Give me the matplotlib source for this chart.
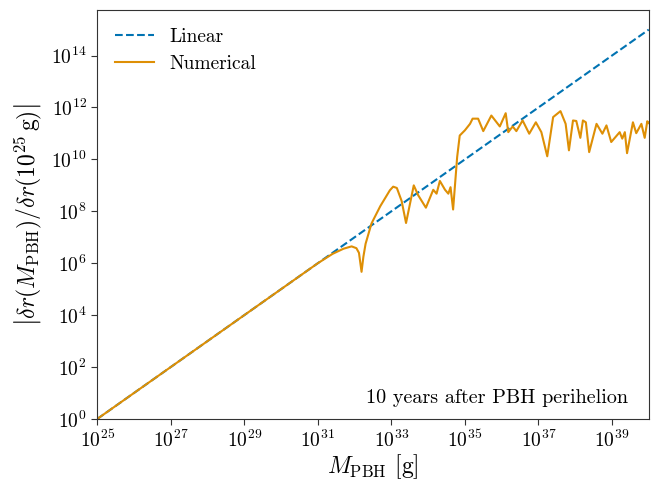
import matplotlib
matplotlib.use("Agg")
import matplotlib.pyplot as plt
import numpy as np

plt.rcParams["font.family"] = "serif"
plt.rcParams["font.serif"] = ["cmr10"]
plt.rcParams["mathtext.fontset"] = "cm"
plt.rcParams["axes.formatter.use_mathtext"] = True

# log10 of the PBH mass [g] and of |dr(M)/dr(1e25 g)| for the numerical run
log_m_num = [25.0, 31.0, 31.4, 31.7, 31.92, 32.05, 32.12, 32.19, 32.24, 32.30,
             32.46, 32.7, 32.96, 33.05, 33.15, 33.28, 33.40, 33.61, 33.73, 33.94,
             34.14, 34.23, 34.32, 34.46, 34.55, 34.61, 34.68, 34.79, 34.86, 35.0,
             35.14, 35.21, 35.36, 35.50, 35.72, 35.95, 36.11, 36.18, 36.30, 36.40,
             36.57, 36.75, 36.93, 37.08, 37.24, 37.40, 37.60, 37.74, 37.83, 37.94,
             38.03, 38.14, 38.21, 38.29, 38.38, 38.58, 38.74, 38.85, 38.98, 39.21,
             39.28, 39.35, 39.41, 39.57, 39.66, 39.80, 39.89, 39.96, 40.0]
log_y_num = [0.0, 6.0, 6.36, 6.56, 6.65, 6.58, 6.40, 5.67, 6.25, 6.75,
             7.53, 8.2, 8.81, 8.95, 8.9, 8.4, 7.55, 9.0, 8.62, 8.14,
             8.83, 8.68, 9.17, 8.83, 8.68, 8.93, 8.07, 10.09, 10.92, 11.12,
             11.37, 11.57, 11.57, 11.09, 11.69, 11.27, 11.78, 11.05, 11.27, 11.09,
             11.50, 10.99, 11.43, 11.05, 10.12, 11.63, 11.86, 11.37, 10.35, 11.50,
             11.48, 10.83, 11.50, 11.43, 10.28, 11.37, 10.99, 11.31, 10.67, 11.05,
             10.80, 11.05, 10.24, 11.43, 11.01, 11.37, 10.83, 11.47, 11.4]

m_ref = 1e25
m_lin = np.logspace(25, 40, 200)

blue = "#0173b2"
orange = "#de8f05"

fig, ax = plt.subplots(figsize=(6.52, 4.83), dpi=100)
fig.subplots_adjust(left=0.149, right=0.995, top=0.979, bottom=0.1325)

ax.plot(m_lin, m_lin / m_ref, "--", color=blue, lw=1.5, label="Linear")
ax.plot(10**np.array(log_m_num), 10**np.array(log_y_num), "-", color=orange,
        lw=1.5, label="Numerical")

ax.set_xscale("log")
ax.set_yscale("log")
ax.set_xlim(1e25, 1e40)
ax.set_ylim(1, 10**15.75)
ax.set_xticks([10.0**k for k in range(25, 40, 2)])
ax.set_yticks([10.0**k for k in range(0, 15, 2)])
ax.minorticks_off()
ax.tick_params(labelsize=14, length=4, color=".2")
for s in ax.spines.values():
    s.set_color(".2")

ax.set_xlabel(r"$M_{\rm PBH}$ [g]", fontsize=17, labelpad=1)
ax.set_ylabel(r"$\left|\delta r(M_{\rm PBH})/\delta r(10^{25}\,{\rm g})\right|$",
              fontsize=17, labelpad=5)

ax.legend(loc="upper left", frameon=False, fontsize=14)
ax.text(0.962, 0.03, "10 years after PBH perihelion", transform=ax.transAxes,
        ha="right", va="bottom", fontsize=14.5)

fig.savefig("out.png", dpi=100)
